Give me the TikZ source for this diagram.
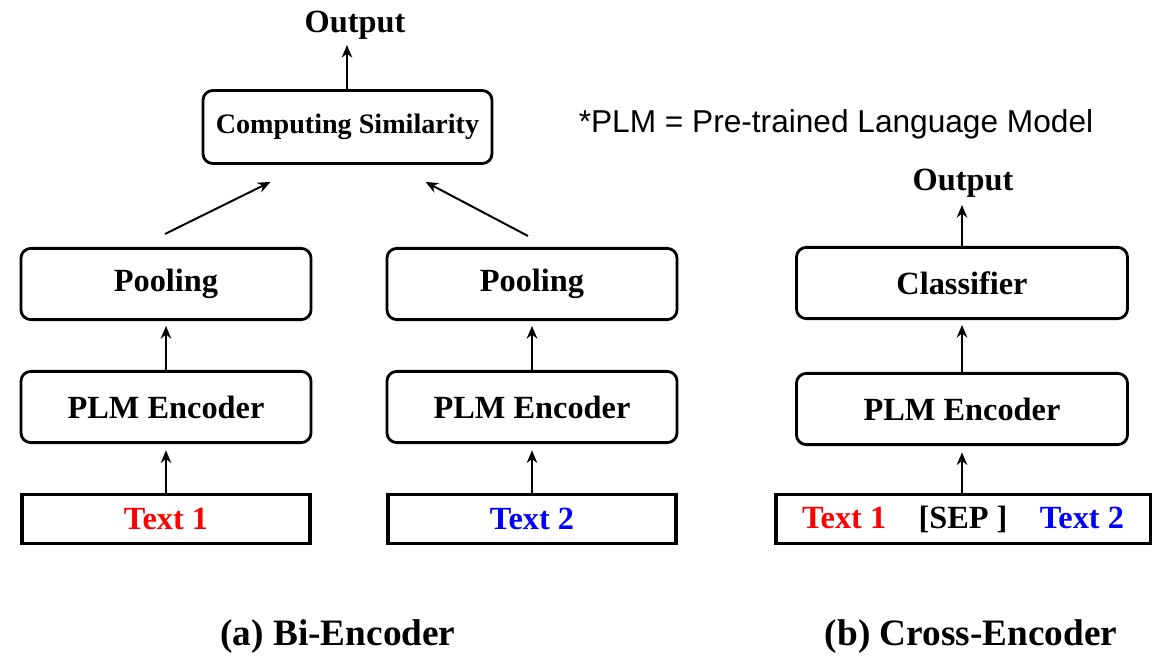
\documentclass[tikz,border=0pt]{standalone}
\usepackage{fontspec}
\setmainfont{Liberation Serif}
\newfontfamily\notefont{Liberation Sans}
\usepackage{xcolor}
\usepackage{tikz}
\usetikzlibrary{positioning,arrows.meta,calc}

\begin{document}
\begin{tikzpicture}[
  x=0.025cm, y=-0.025cm,
  every node/.style={font=\bfseries\fontsize{23}{26}\selectfont},
  block/.style={draw,rounded corners=7pt,line width=2pt,minimum width=7.25cm,minimum height=1.78cm,inner sep=0pt},
  wideblock/.style={block,minimum width=8.275cm},
  inbox/.style={draw,line width=2.2pt,minimum height=1.225cm,inner sep=0pt},
  arrow/.style={-{Stealth[length=9pt,width=7.5pt]},line width=1.4pt},
  caption/.style={font=\bfseries\fontsize{26.5}{30}\selectfont}
]
  \useasboundingbox (0,0) rectangle (1160,658);
  % (a) bi-encoder
  \node (out1) at (355,25) {Output};
  \node[block,minimum width=7.225cm,minimum height=1.825cm,font=\bfseries\fontsize{20}{24}\selectfont] (cs) at (347.5,127) {Computing Similarity};
  \node[block] (pool1) at (166,284) {Pooling};
  \node[block] (pool2) at (532,284) {Pooling};
  \node[block] (enc1) at (166,407) {PLM Encoder};
  \node[block] (enc2) at (532,407) {PLM Encoder};
  \node[inbox,minimum width=7.2cm] (txt1) at (166,519) {\textcolor{red}{Text 1}};
  \node[inbox,minimum width=7.2cm] (txt2) at (532,519) {\textcolor{blue}{Text 2}};
  \coordinate (o1) at (347,45);
  \draw[arrow] (cs.north -| o1) -- (o1);
  \draw[arrow] ($(pool1.north)+(-1,-13)$) -- ($(cs.south)+(-77,17)$);
  \draw[arrow] ($(pool2.north)+(-4,-11)$) -- ($(cs.south)+(78,17)$);
  \foreach \s in {1,2}{
    \draw[arrow,shorten >=3.5pt] (enc\s.north) -- (pool\s.south);
    \draw[arrow,shorten >=4.5pt] (txt\s.north) -- (enc\s.south);
  }
  % (b) cross-encoder
  \node (out2) at (963,183) {Output};
  \node[wideblock] (cls) at (962,283) {Classifier};
  \node[wideblock] (enc3) at (962,409) {PLM Encoder};
  \node[inbox,minimum width=9.35cm] (txt3) at (963,519) {\textcolor{red}{Text 1}\quad[SEP ]\quad\textcolor{blue}{Text 2}};
  \coordinate (o2) at (962,205);
  \draw[arrow] (cls.north) -- (o2);
  \draw[arrow,shorten >=3.5pt] (enc3.north) -- (cls.south);
  \draw[arrow,shorten >=4.5pt] (txt3.north -| enc3) -- (enc3.south);
  % note and captions
  \node[font=\notefont\fontsize{22.5}{26}\selectfont] (note) at (836,124) {*PLM = Pre-trained Language Model};
  \node[caption] (capa) at (338,637) {(a) Bi-Encoder};
  \node[caption] (capb) at (971,637) {(b) Cross-Encoder};
\end{tikzpicture}
\end{document}
